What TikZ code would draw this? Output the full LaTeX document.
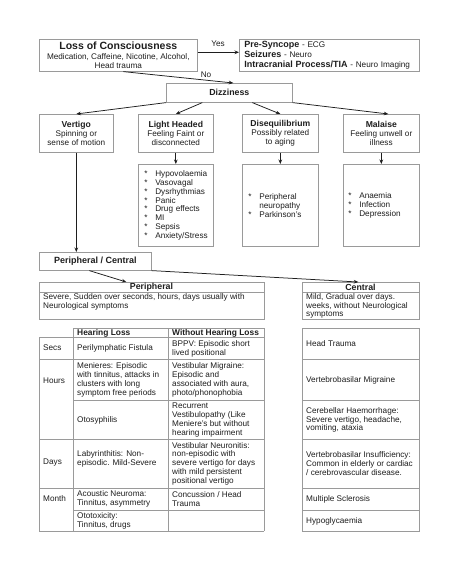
\documentclass[tikz,border=0pt]{standalone}
\usepackage{fontspec}
\setmainfont{Liberation Sans}
\usetikzlibrary{arrows.meta,calc}
\definecolor{bc}{HTML}{9A9A9A}
\definecolor{tc}{HTML}{1E1E1E}
\newcommand\rf{\fontsize{8.2}{8.8}\selectfont}
\newcommand\bfh{\fontsize{8.6}{9}\selectfont\bfseries}
\newcommand\itm[1]{\makebox[11pt][l]{*}#1}
\begin{document}
\begin{tikzpicture}[x=1pt,y=-1pt,
  bx/.style 2 args={draw=bc, line width=0.6pt, minimum width=#1pt, minimum height=#2pt,
    inner sep=0pt, anchor=north west, align=center, text=tc, font=\rf},
  arr/.style={-{Stealth[length=4.5pt,width=3.6pt]}, line width=0.75pt, draw=tc},
  lbl/.style={inner sep=0pt, text=tc, font=\rf, align=left, anchor=west},
  hd/.style={inner sep=0pt, text=tc, font=\bfh, anchor=west},
  tl/.style={draw=bc, line width=0.6pt}]
\useasboundingbox (0,0) rectangle (453,586);
\fill[white] (0,0) rectangle (453,586);

% top row
\node[bx={158}{32}] (loc) at (39,39) {{\fontsize{10.5}{11}\selectfont\bfseries Loss of Consciousness}\\[1pt]Medication, Caffeine, Nicotine, Alcohol,\\Head trauma};
\node[bx={180}{32}, align=left, text width=170pt, inner xsep=5pt, font=\fontsize{8.2}{10}\selectfont] (pre) at (239,39)
  {{\fontsize{9}{10}\selectfont\bfseries Pre-Syncope} - ECG\\{\fontsize{9}{10}\selectfont\bfseries Seizures} - Neuro\\{\fontsize{9}{10}\selectfont\bfseries Intracranial Process/TIA} - Neuro Imaging};
\node[lbl, anchor=center] (yes) at (218,44) {Yes};
\node[lbl, anchor=center] (no) at (206,75) {No};
\draw[arr] ([yshift=3pt]loc.east) -- ([yshift=3pt]pre.west);

% dizziness
\node[bx={126}{19}, font=\fontsize{8.8}{9}\selectfont\bfseries] (diz) at (166,83) {Dizziness};
\draw[arr] ([xshift=5pt]loc.south) -- ([xshift=4pt]diz.north);

% categories
\node[bx={74}{38}] (ver) at (39,114) {{\bfh Vertigo}\\Spinning or\\sense of motion};
\node[bx={75}{38}] (lh) at (138,114) {{\bfh Light Headed}\\Feeling Faint or\\disconnected};
\node[bx={76}{38}] (dis) at (242,114) {{\bfh Disequilibrium}\\Possibly related\\to aging};
\node[bx={76}{38}] (mal) at (343,114) {{\bfh Malaise}\\Feeling unwell or\\illness};
\draw[arr] (diz.south west) -- (ver.north);
\draw[arr] ([xshift=-27pt]diz.south) -- (lh.north);
\draw[arr] ([xshift=23pt]diz.south) -- (dis.north);
\draw[arr] (diz.south east) -- ([xshift=7pt]mal.north);

% lists
\node[bx={75}{82}, align=left, text width=63pt, inner xsep=6pt] (lhl) at (138,164)
  {\itm{Hypovolaemia}\\\itm{Vasovagal}\\\itm{Dysrhythmias}\\\itm{Panic}\\\itm{Drug effects}\\\itm{MI}\\\itm{Sepsis}\\\itm{Anxiety/Stress}};
\node[bx={76}{82}, align=left, text width=64pt, inner xsep=6pt] (disl) at (242,164)
  {\itm{Peripheral}\\\hspace*{11pt}neuropathy\\\itm{Parkinson's}};
\node[bx={76}{82}, align=left, text width=66pt, inner xsep=5pt] (mall) at (343,164)
  {\itm{Anaemia}\\\itm{Infection}\\\itm{Depression}};
\draw[arr] (lh.south) -- (lhl.north);
\draw[arr] (dis.south) -- (disl.north);
\draw[arr] (mal.south) -- (mall.north);

% peripheral / central
\node[bx={112}{18}, font=\fontsize{9}{10}\selectfont\bfseries] (pc) at (39,252) {Peripheral / Central};
\draw[arr] (ver.south) -- (ver.south |- pc.north);

\node[bx={225}{37}] (per) at (39,282) {};
\draw[tl] (39,292) -- (264,292);
\node[hd, anchor=center, font=\fontsize{8.8}{9}\selectfont\bfseries] (perh) at (151.5,287) {Peripheral};
\node[lbl] (perb) at (43,301.5) {Severe, Sudden over seconds, hours, days usually with\\Neurological symptoms};

\node[bx={117}{37}] (cen) at (302,282) {};
\draw[tl] (302,292) -- (419,292);
\node[hd, anchor=center, font=\fontsize{8.8}{9}\selectfont\bfseries] (cenh) at (360.5,287) {Central};
\node[lbl] (cenb) at (306,306) {Mild, Gradual over days.\\weeks, without Neurological\\symptoms};

\draw[arr] ([xshift=-6pt]pc.south) -- ([xshift=-25.5pt]per.north);
\draw[arr] (pc.south east) -- ([xshift=-2.5pt]cen.north);

% peripheral table
\draw[tl] (73,328) -- (264,328);
\draw[tl] (39,337) -- (264,337);
\draw[tl] (39,359) -- (264,359);
\draw[tl] (73,400) -- (264,400);
\draw[tl] (39,439) -- (264,439);
\draw[tl] (39,488) -- (264,488);
\draw[tl] (73,510) -- (264,510);
\draw[tl] (39,531) -- (264,531);
\draw[tl] (39,337) -- (39,531);
\draw[tl] (73,328) -- (73,531);
\draw[tl] (168,328) -- (168,531);
\draw[tl] (264,328) -- (264,531);

\node[hd, font=\fontsize{8.4}{9}\selectfont\bfseries] (h1) at (77,333) {Hearing Loss};
\node[hd, font=\fontsize{8.4}{9}\selectfont\bfseries] (h2) at (172,333) {Without Hearing Loss};
\node[lbl] (rs) at (43,348) {Secs};
\node[lbl] (rh) at (43,381) {Hours};
\node[lbl] (rd) at (43,463) {Days};
\node[lbl] (rm) at (43,499) {Month};

\node[lbl] (a1) at (77,348) {Perilymphatic Fistula};
\node[lbl] (b1) at (172,349) {BPPV: Episodic short\\lived positional};
\node[lbl] (a2) at (77,380) {Menieres: Episodic\\with tinnitus, attacks in\\clusters with long\\symptom free periods};
\node[lbl] (b2) at (172,380) {Vestibular Migraine:\\Episodic and\\associated with aura,\\photo/phonophobia};
\node[lbl] (a3) at (77,420) {Otosyphilis};
\node[lbl] (b3) at (172,420) {Recurrent\\Vestibulopathy (Like\\Meniere's but without\\hearing impairment};
\node[lbl] (a4) at (77,459) {Labyrinthitis: Non-\\episodic. Mild-Severe};
\node[lbl] (b4) at (172,463.5) {Vestibular Neuronitis:\\non-episodic with\\severe vertigo for days\\with mild persistent\\positional vertigo};
\node[lbl] (a5) at (77,499) {Acoustic Neuroma:\\Tinnitus, asymmetry};
\node[lbl] (b5) at (172,499) {Concussion / Head\\Trauma};
\node[lbl] (a6) at (77,520.5) {Ototoxicity:\\Tinnitus, drugs};

% central table
\draw[tl] (302,328) rectangle (419,531);
\foreach \yy in {359,400,439,488,510} \draw[tl] (302,\yy) -- (419,\yy);
\node[lbl] (c1) at (306,344) {Head Trauma};
\node[lbl] (c2) at (306,380) {Vertebrobasilar Migraine};
\node[lbl] (c3) at (306,420) {Cerebellar Haemorrhage:\\Severe vertigo, headache,\\vomiting, ataxia};
\node[lbl] (c4) at (306,463.5) {Vertebrobasilar Insufficiency:\\Common in elderly or cardiac\\/ cerebrovascular disease.};
\node[lbl] (c5) at (306,499) {Multiple Sclerosis};
\node[lbl] (c6) at (306,521) {Hypoglycaemia};
\end{tikzpicture}
\end{document}
